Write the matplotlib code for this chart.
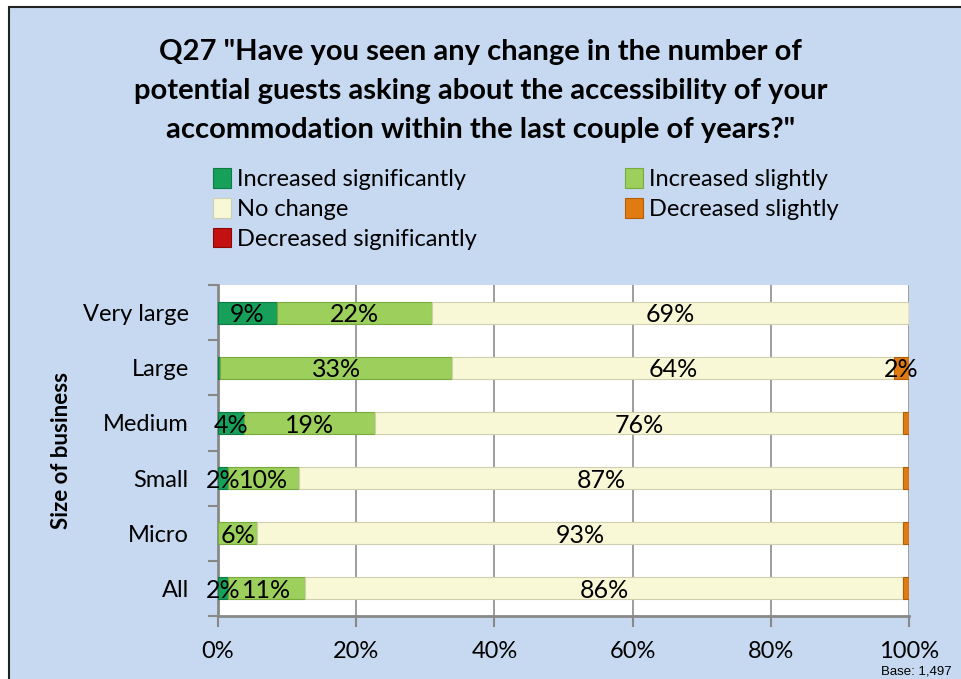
import numpy as np
import matplotlib.pyplot as plt
from matplotlib.patches import Rectangle
from matplotlib.ticker import FixedLocator

plt.rcParams['font.family'] = ['Lato', 'DejaVu Sans']

# data (percent of respondents)
categories = ['Very large', 'Large', 'Medium', 'Small', 'Micro', 'All']
series_names = ['Increased significantly', 'Increased slightly', 'No change',
                'Decreased slightly', 'Decreased significantly']
inc_sig = [8.5, 0.3, 3.8, 1.5, 0.0, 1.5]
inc_slight = [22.4, 33.6, 18.9, 10.2, 5.7, 11.1]
no_change = [69.1, 63.9, 76.4, 87.4, 93.4, 86.5]
dec_slight = [0.0, 2.2, 0.9, 0.9, 0.9, 0.9]
dec_sig = [0.0, 0.0, 0.0, 0.0, 0.0, 0.0]
# labels shown in the chart (None = no label)
labels = [
    ['9%', None, '4%', '2%', None, '2%'],
    ['22%', '33%', '19%', '10%', '6%', '11%'],
    ['69%', '64%', '76%', '87%', '93%', '86%'],
    [None, '2%', None, None, None, None],
    [None, None, None, None, None, None],
]
colors = ['#17a05a', '#9ccf5c', '#f8f8d6', '#e07b12', '#c41010']
edges = ['#0e7a44', '#7aaa3e', '#d0d0b0', '#b45c08', '#8a0a0a']

fig = plt.figure(figsize=(9.61, 6.79), dpi=100)
fig.patch.set_facecolor('white')
fig.patches.append(Rectangle((9 / 961, -0.01), 1.0, 1 - 7 / 679 + 0.01,
                             transform=fig.transFigure, facecolor='#c6d9f0',
                             edgecolor='#222222', linewidth=1.5, zorder=-10))

ax = fig.add_axes([218 / 961, 1 - 616 / 679, (909 - 218) / 961, (616 - 285) / 679])
ax.set_facecolor('white')

y = np.arange(len(categories))
data = [inc_sig, inc_slight, no_change, dec_slight, dec_sig]
left = np.zeros(len(categories))
bar_sets = []
for vals, name, c, ec in zip(data, series_names, colors, edges):
    bars = ax.barh(y, vals, left=left, height=0.4, color=c, edgecolor=ec,
                   linewidth=0.8, label=name, zorder=3)
    bar_sets.append(bars)
    left = left + np.array(vals)

for bars, labs in zip(bar_sets, labels):
    for rect, lab in zip(bars, labs):
        if lab is None:
            continue
        cx = rect.get_x() + rect.get_width() / 2
        cy = rect.get_y() + rect.get_height() / 2
        ax.text(cx, cy + 0.04, lab, ha='center', va='center', fontsize=18,
                color='black', zorder=5)

ax.set_xlim(0, 100)
ax.set_ylim(len(categories) - 0.5, -0.5)
ax.set_xticks([0, 20, 40, 60, 80, 100])
ax.set_xticklabels(['0%', '20%', '40%', '60%', '80%', '100%'], fontsize=17)
ax.set_yticks(y)
ax.set_yticklabels(categories, fontsize=17)
ax.yaxis.set_minor_locator(FixedLocator(np.arange(-0.5, len(categories), 1)))
ax.tick_params(axis='y', which='major', length=0, pad=21)
ax.tick_params(axis='y', which='minor', length=7, color='#888888', width=1.5)
ax.tick_params(axis='x', length=8, color='#888888', width=1.5, pad=10)
ax.grid(axis='x', color='#8c8c8c', linewidth=1.2, zorder=0)
for s in ['top', 'right']:
    ax.spines[s].set_visible(False)
for s in ['left', 'bottom']:
    ax.spines[s].set_color('#888888')
    ax.spines[s].set_linewidth(2)

ax.set_ylabel('Size of business', fontsize=16, fontweight='bold')
ax.yaxis.set_label_coords(-0.212, 0.5)

fig.text(0.5, 1 - 91 / 679, 'Q27 "Have you seen any change in the number of\n'
         'potential guests asking about the accessibility of your\n'
         'accommodation within the last couple of years?"',
         ha='center', va='center', fontsize=21, fontweight='bold',
         linespacing=1.62)

# legend fills row by row in the reference: reorder for column-wise filling
order = [0, 2, 4, 1, 3]
fig.legend([bar_sets[i] for i in order], [series_names[i] for i in order],
           loc='upper left', ncol=2,
           bbox_to_anchor=(192 / 961, 1 - 147 / 679), frameon=False,
           fontsize=17, handlelength=0.75, handleheight=0.9, handletextpad=0.25,
           columnspacing=6.3, labelspacing=0.33)

fig.text(952 / 961, 1 - 671 / 679, 'Base: 1,497', ha='right', va='center',
         fontsize=9.5, family='Liberation Sans')

fig.savefig('out.png', dpi=100, facecolor=fig.get_facecolor())
